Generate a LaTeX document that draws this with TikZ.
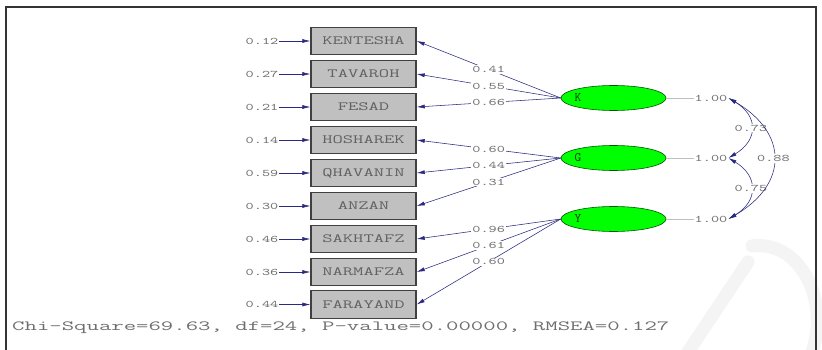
\documentclass[tikz,border=0pt]{standalone}
\usepackage{fontspec}
\usetikzlibrary{shapes.geometric,arrows.meta}
\newcommand\sx[2]{\scalebox{#1}[1]{#2}}
\definecolor{pathblue}{HTML}{2A2A80}
\definecolor{boxgray}{HTML}{C0C0C0}
\definecolor{txtgray}{HTML}{6E6E6E}
\definecolor{latgreen}{HTML}{00FF00}
\tikzset{
  obsbox/.style={draw=black!75, line width=1.4pt, fill=boxgray, minimum width=105pt,
    minimum height=27.5pt, inner sep=0pt, text=black!62,
    font=\ttfamily\fontsize{12.5}{12.5}\selectfont},
  latent/.style={ellipse, draw=green!35!black, line width=0.6pt, fill=latgreen,
    minimum width=105pt, minimum height=25pt, inner sep=0pt},
  latname/.style={text=green!20!black, font=\ttfamily\fontsize{13}{13}\selectfont, inner sep=0pt},
  numlab/.style={text=txtgray, font=\ttfamily\fontsize{10}{10}\selectfont, inner sep=1pt},
  onlab/.style={numlab, fill=white},
  pathline/.style={draw=pathblue, line width=0.55pt, -{Latex[length=8pt,width=4pt]}},
  twoway/.style={draw=pathblue, line width=0.55pt, {Latex[length=8pt,width=4pt]}-{Latex[length=8pt,width=4pt]}},
  varline/.style={draw=gray!50, line width=0.4pt},
}
\begin{document}
\begin{tikzpicture}[x=1pt,y=1pt]
\useasboundingbox (0,0) rectangle (822,-350);
\fill[white] (0,0) rectangle (822,-350);
% faint watermark strokes
\draw[gray!9, line width=13pt, line cap=round] (688,-352) -- (748,-262);
\draw[gray!9, line width=13pt, line cap=round] (752,-246) .. controls (800,-240) and (830,-300) .. (812,-352);
% frame
\draw[black!80, line width=1.2pt] (6,-355) -- (6,-7) -- (816,-7) -- (816,-355);

% observed variables
\node[obsbox] (o1) at (363.5,-41)  {\sx{1.6}{KENTESHA}};
\node[obsbox] (o2) at (363.5,-74)  {\sx{1.6}{TAVAROH}};
\node[obsbox] (o3) at (363.5,-107) {\sx{1.6}{FESAD}};
\node[obsbox] (o4) at (363.5,-140) {\sx{1.6}{HOSHAREK}};
\node[obsbox] (o5) at (363.5,-173) {\sx{1.6}{QHAVANIN}};
\node[obsbox] (o6) at (363.5,-206) {\sx{1.6}{ANZAN}};
\node[obsbox] (o7) at (363.5,-239) {\sx{1.6}{SAKHTAFZ}};
\node[obsbox] (o8) at (363.5,-272) {\sx{1.6}{NARMAFZA}};
\node[obsbox] (o9) at (363.5,-304.5) {\sx{1.6}{FARAYAND}};

% error variances
\node[numlab] (e1) at (262,-41)  {\sx{1.55}{0.12}};
\node[numlab] (e2) at (262,-74)  {\sx{1.55}{0.27}};
\node[numlab] (e3) at (262,-107) {\sx{1.55}{0.21}};
\node[numlab] (e4) at (262,-140) {\sx{1.55}{0.14}};
\node[numlab] (e5) at (262,-173) {\sx{1.55}{0.59}};
\node[numlab] (e6) at (262,-206) {\sx{1.55}{0.30}};
\node[numlab] (e7) at (262,-239) {\sx{1.55}{0.46}};
\node[numlab] (e8) at (262,-272) {\sx{1.55}{0.36}};
\node[numlab] (e9) at (262,-304.5) {\sx{1.55}{0.44}};
\foreach \i in {1,...,9} { \draw[pathline] (e\i.east) -- (o\i.west); }

% latent variables
\node[latent] (K) at (613.5,-98)  {};
\node[latent] (G) at (613.5,-158) {};
\node[latent] (Y) at (613.5,-219) {};
\node[latname] at (578,-98)  {K};
\node[latname] at (578,-158) {G};
\node[latname] at (578,-219) {Y};

% loadings
\draw[pathline] (K.west) -- node[onlab] {\sx{1.55}{0.41}} (o1.east);
\draw[pathline] (K.west) -- node[onlab] {\sx{1.55}{0.55}} (o2.east);
\draw[pathline] (K.west) -- node[onlab] {\sx{1.55}{0.66}} (o3.east);
\draw[pathline] (G.west) -- node[onlab] {\sx{1.55}{0.60}} (o4.east);
\draw[pathline] (G.west) -- node[onlab] {\sx{1.55}{0.44}} (o5.east);
\draw[pathline] (G.west) -- node[onlab] {\sx{1.55}{0.31}} (o6.east);
\draw[pathline] (Y.west) -- node[onlab] {\sx{1.55}{0.96}} (o7.east);
\draw[pathline] (Y.west) -- node[onlab] {\sx{1.55}{0.61}} (o8.east);
\draw[pathline] (Y.west) -- node[onlab] {\sx{1.55}{0.60}} (o9.east);

% latent variances
\node[numlab] (vK) at (711,-98)  {\sx{1.55}{1.00}};
\node[numlab] (vG) at (711,-158) {\sx{1.55}{1.00}};
\node[numlab] (vY) at (711,-219) {\sx{1.55}{1.00}};
\draw[varline] (K.east) -- (vK.west);
\draw[varline] (G.east) -- (vG.west);
\draw[varline] (Y.east) -- (vY.west);

% covariances
\draw[twoway] (vK.east) .. controls +(30,-18) and +(30,18) .. node[onlab, pos=0.5] {\sx{1.55}{0.73}} (vG.east);
\draw[twoway] (vG.east) .. controls +(30,-18) and +(30,18) .. node[onlab, pos=0.5] {\sx{1.55}{0.75}} (vY.east);
\draw[twoway] (vK.east) .. controls +(60,-35) and +(60,35) .. node[onlab, pos=0.5] {\sx{1.55}{0.88}} (vY.east);

% fit statistics
\node[text=txtgray, font=\ttfamily\fontsize{14}{14}\selectfont, anchor=west, inner sep=0pt] (fit) at (12,-328)
  {\sx{1.72}{Chi-Square=69.63, df=24, P-value=0.00000, RMSEA=0.127}};
\end{tikzpicture}
\end{document}
